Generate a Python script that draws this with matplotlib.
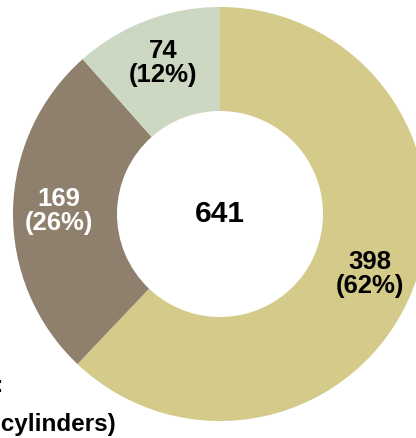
import matplotlib.pyplot as plt

# data
counts = [398, 169, 74]
colors = ["#D4CA8A", "#8F806E", "#CDD8C3"]
label_colors = ["black", "white", "black"]
total = sum(counts)

plt.rcParams["font.family"] = ["Liberation Sans", "DejaVu Sans"]

W, H = 416, 438
fig = plt.figure(figsize=(W / 100, H / 100), dpi=100)
ax = fig.add_axes([0, 0, 1, 1])


def fmt(pct):
    n = round(pct * total / 100)
    return f"{n}\n({pct:.0f}%)"


wedges, texts, autotexts = ax.pie(
    counts, colors=colors, startangle=90, counterclock=False,
    center=(220, 224), radius=207, autopct=fmt, pctdistance=0.78,
    wedgeprops=dict(width=104, linewidth=0),
    textprops=dict(fontsize=18.5, fontweight="bold", linespacing=1.0),
)
for t, c in zip(autotexts, label_colors):
    t.set_color(c)

ax.text(220, 224, str(total), ha="center", va="center",
        fontsize=21.5, fontweight="bold")

# cut-off caption at the bottom left
ax.text(4, 53, "Total:", ha="right", va="center",
        fontsize=17.5, fontweight="bold")
ax.text(116, 14, "(number of cylinders)", ha="right", va="center",
        fontsize=17.5, fontweight="bold")

ax.set_xlim(0, W)
ax.set_ylim(0, H)
ax.set_aspect("equal")
ax.axis("off")

fig.savefig("out.png", dpi=100)
